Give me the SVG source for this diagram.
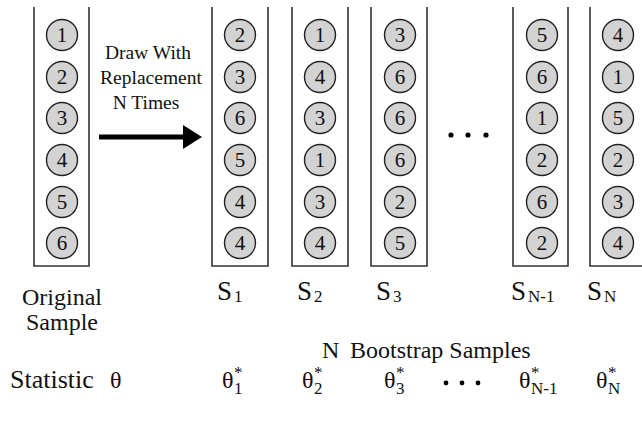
<svg xmlns="http://www.w3.org/2000/svg" width="642" height="424" viewBox="0 0 642 424">
<g id="boxes" fill="none" stroke="#333" stroke-width="1.6">
<path d="M34 7V266H89V7"/>
<path d="M212 7V266H268V7"/>
<path d="M292 7V266H348V7"/>
<path d="M371 7V266H427V7"/>
<path d="M513 7V266H568V7"/>
<path d="M590 7V266H646V7"/>
</g>
<g id="balls" fill="#d3d3d3" stroke="#222" stroke-width="1.4">
<circle cx="62" cy="35" r="15.5"/><circle cx="62" cy="77" r="15.5"/><circle cx="62" cy="118" r="15.5"/><circle cx="62" cy="160" r="15.5"/><circle cx="62" cy="202" r="15.5"/><circle cx="62" cy="243" r="15.5"/>
<circle cx="240" cy="35" r="15.5"/><circle cx="240" cy="77" r="15.5"/><circle cx="240" cy="118" r="15.5"/><circle cx="240" cy="160" r="15.5"/><circle cx="240" cy="202" r="15.5"/><circle cx="240" cy="243" r="15.5"/>
<circle cx="320" cy="35" r="15.5"/><circle cx="320" cy="77" r="15.5"/><circle cx="320" cy="118" r="15.5"/><circle cx="320" cy="160" r="15.5"/><circle cx="320" cy="202" r="15.5"/><circle cx="320" cy="243" r="15.5"/>
<circle cx="400" cy="35" r="15.5"/><circle cx="400" cy="77" r="15.5"/><circle cx="400" cy="118" r="15.5"/><circle cx="400" cy="160" r="15.5"/><circle cx="400" cy="202" r="15.5"/><circle cx="400" cy="243" r="15.5"/>
<circle cx="542" cy="35" r="15.5"/><circle cx="542" cy="77" r="15.5"/><circle cx="542" cy="118" r="15.5"/><circle cx="542" cy="160" r="15.5"/><circle cx="542" cy="202" r="15.5"/><circle cx="542" cy="243" r="15.5"/>
<circle cx="618" cy="35" r="15.5"/><circle cx="618" cy="77" r="15.5"/><circle cx="618" cy="118" r="15.5"/><circle cx="618" cy="160" r="15.5"/><circle cx="618" cy="202" r="15.5"/><circle cx="618" cy="243" r="15.5"/>
</g>
<g id="numbers" font-family="Times New Roman, Liberation Serif, serif" font-size="21" text-anchor="middle" fill="#111">
<text x="62" y="42">1</text><text x="62" y="84">2</text><text x="62" y="125">3</text><text x="62" y="167">4</text><text x="62" y="209">5</text><text x="62" y="250">6</text>
<text x="240" y="42">2</text><text x="240" y="84">3</text><text x="240" y="125">6</text><text x="240" y="167">5</text><text x="240" y="209">4</text><text x="240" y="250">4</text>
<text x="320" y="42">1</text><text x="320" y="84">4</text><text x="320" y="125">3</text><text x="320" y="167">1</text><text x="320" y="209">3</text><text x="320" y="250">4</text>
<text x="400" y="42">3</text><text x="400" y="84">6</text><text x="400" y="125">6</text><text x="400" y="167">6</text><text x="400" y="209">2</text><text x="400" y="250">5</text>
<text x="542" y="42">5</text><text x="542" y="84">6</text><text x="542" y="125">1</text><text x="542" y="167">2</text><text x="542" y="209">6</text><text x="542" y="250">2</text>
<text x="618" y="42">4</text><text x="618" y="84">1</text><text x="618" y="125">5</text><text x="618" y="167">2</text><text x="618" y="209">3</text><text x="618" y="250">4</text>
</g>
<g id="connectors">
<path d="M99 137H184" stroke="#000" stroke-width="5"/>
<path d="M183 125L202 137L183 149Z" fill="#000"/>
</g>
<g id="arrow-label" font-family="Times New Roman, Liberation Serif, serif" font-size="19.5" text-anchor="middle" fill="#111">
<text x="148" y="59">Draw With</text>
<text x="151" y="84">Replacement</text>
<text x="146" y="109">N Times</text>
</g>
<g id="dots" fill="#000">
<circle cx="451" cy="135" r="2.6"/><circle cx="468" cy="135" r="2.6"/><circle cx="486" cy="135" r="2.6"/>
<circle cx="446" cy="383" r="2.4"/><circle cx="462" cy="383" r="2.4"/><circle cx="478" cy="383" r="2.4"/>
</g>
<g id="labels" font-family="Times New Roman, Liberation Serif, serif" font-size="24" fill="#111">
<text font-size="27" x="217" y="300">S<tspan font-size="17" dx="2" dy="2">1</tspan></text>
<text font-size="27" x="297" y="300">S<tspan font-size="17" dx="2" dy="2">2</tspan></text>
<text font-size="27" x="376" y="300">S<tspan font-size="17" dx="2" dy="2">3</tspan></text>
<text font-size="27" x="511" y="300">S<tspan font-size="17" dx="2" dy="2">N-1</tspan></text>
<text font-size="27" x="587" y="300">S<tspan font-size="17" dx="2" dy="2">N</tspan></text>
<text x="62" y="305" text-anchor="middle">Original</text>
<text x="62" y="330" text-anchor="middle">Sample</text>
<text x="322" y="358">N</text>
<text x="350" y="358">Bootstrap Samples</text>
<text font-size="26" x="10" y="388">Statistic</text>
<text x="110" y="388">θ</text>
<text x="222" y="388">θ<tspan font-size="17" x="234" y="378">*</tspan><tspan font-size="17" x="234" y="394">1</tspan></text>
<text x="302" y="388">θ<tspan font-size="17" x="314" y="378">*</tspan><tspan font-size="17" x="314" y="394">2</tspan></text>
<text x="384" y="388">θ<tspan font-size="17" x="396" y="378">*</tspan><tspan font-size="17" x="396" y="394">3</tspan></text>
<text x="519" y="388">θ<tspan font-size="17" x="531" y="378">*</tspan><tspan font-size="17" x="531" y="394">N-1</tspan></text>
<text x="596" y="388">θ<tspan font-size="17" x="608" y="378">*</tspan><tspan font-size="17" x="608" y="394">N</tspan></text>
</g>
</svg>
